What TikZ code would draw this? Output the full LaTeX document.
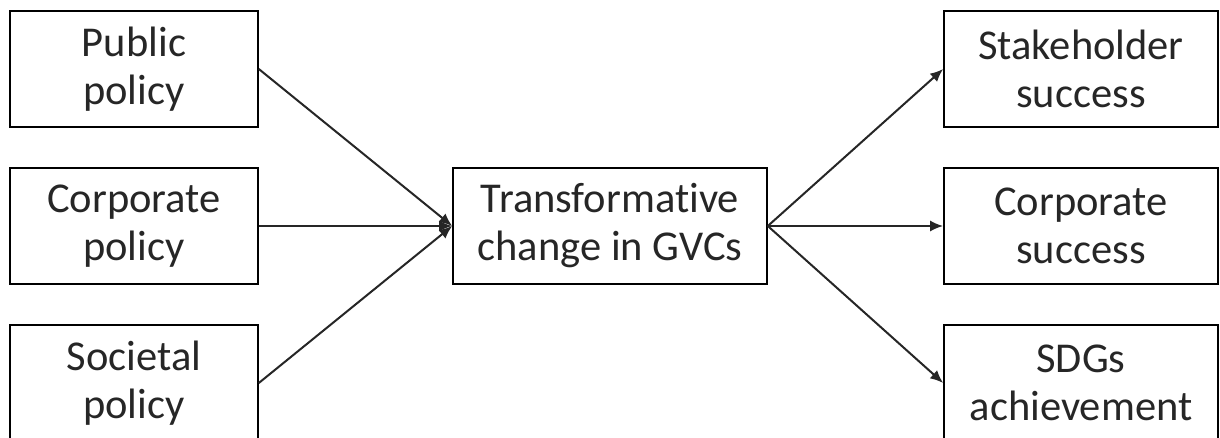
\documentclass[tikz,border=0pt]{standalone}
\usepackage{fontspec}
\setmainfont{Carlito}[Ligatures=NoCommon]
\usetikzlibrary{arrows.meta}
\begin{document}
\begin{tikzpicture}[x=1pt,y=-1pt,
  box/.style={draw=black,line width=1.6pt,align=center,inner sep=0pt,
    font=\fontsize{42.5}{48}\selectfont,text=black!85},
  lbox/.style={box,minimum width=248pt,minimum height=116pt},
  cbox/.style={box,minimum width=314pt,minimum height=116pt},
  rbox/.style={box,minimum width=274pt,minimum height=116pt},
  conn/.style={draw=black!85,line width=2pt,-{Latex[length=13pt,width=11pt]}}]
\useasboundingbox (0,0) rectangle (1220,437);
\clip (0,0) rectangle (1220,437);
\node[lbox] (pub) at (134,69) {Public\\policy};
\node[lbox] (cpol) at (134,226) {Corporate\\policy};
\node[lbox] (soc) at (134,383) {Societal\\policy};
\node[cbox] (ctr) at (610,226) {Transformative\\change in GVCs};
\node[rbox] (stk) at (1081,69) {Stakeholder\\success};
\node[rbox] (csuc) at (1081,226) {Corporate\\success};
\node[rbox] (sdg) at (1081,383) {SDGs\\achievement};
\draw[conn] (pub.east) -- (ctr.west);
\draw[conn] (cpol.east) -- (ctr.west);
\draw[conn] (soc.east) -- (ctr.west);
\draw[conn] (ctr.east) -- (stk.west);
\draw[conn] (ctr.east) -- (csuc.west);
\draw[conn] (ctr.east) -- (sdg.west);
\end{tikzpicture}
\end{document}
